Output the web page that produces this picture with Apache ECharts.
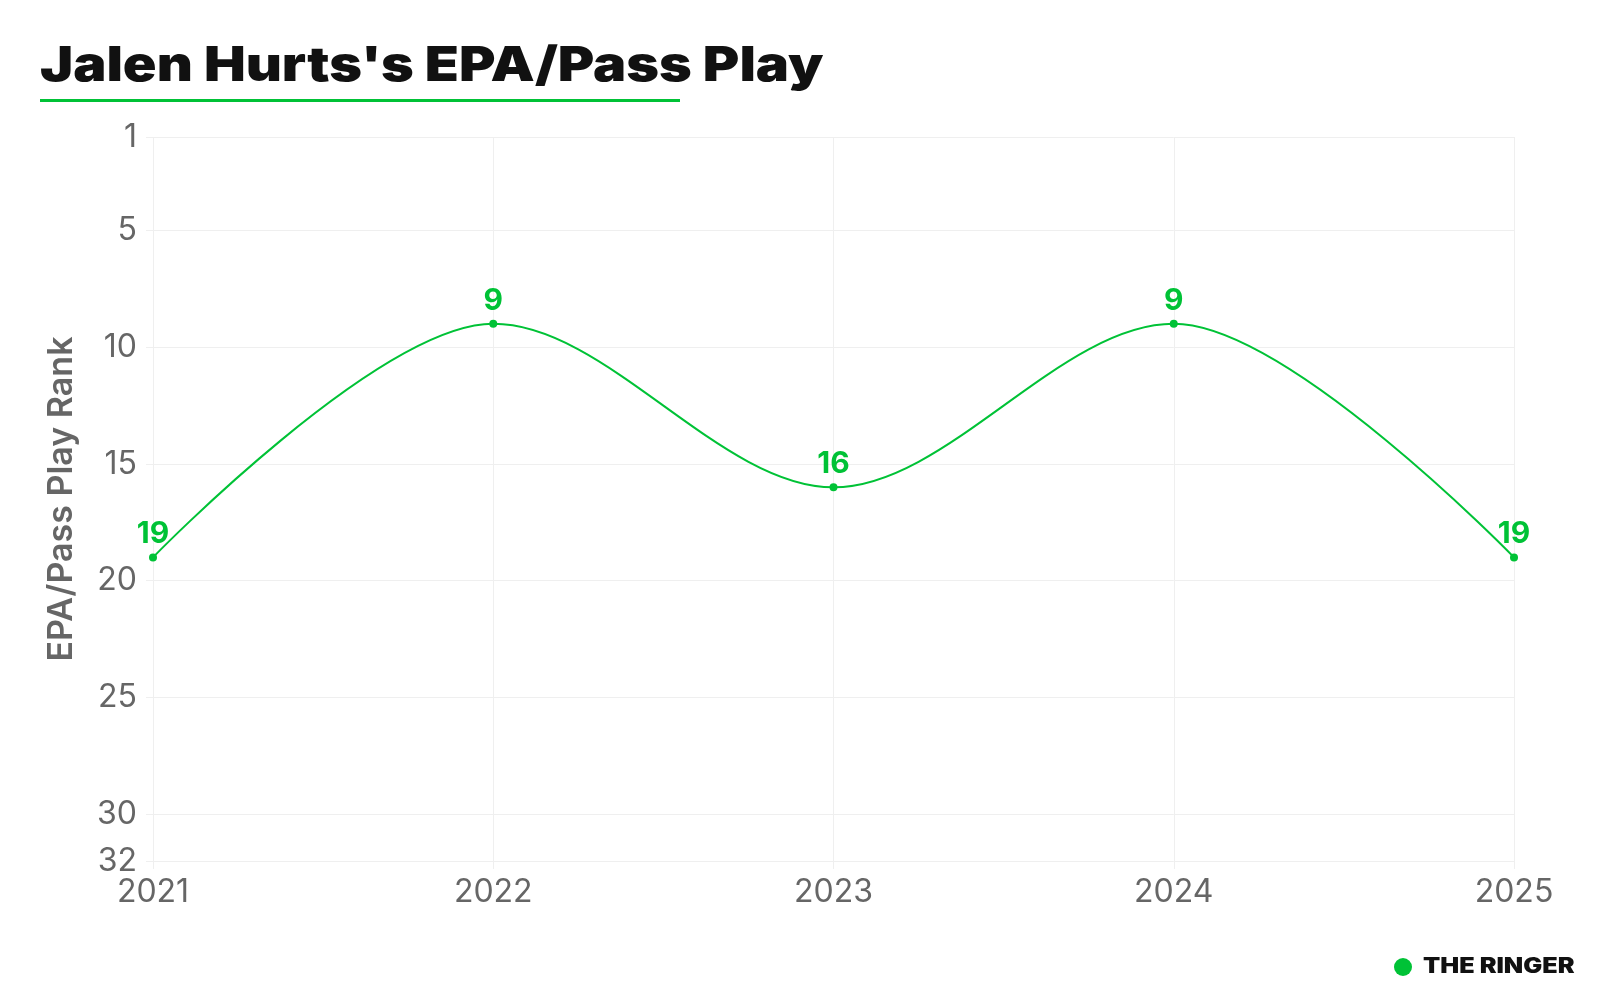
<!DOCTYPE html>
<html>
<head>
<meta charset="utf-8">
<script src="https://cdn.jsdelivr.net/npm/echarts@6/dist/echarts.min.js"></script>
<style>
  html, body { margin: 0; padding: 0; background: #ffffff; }
  #chart { width: 1600px; height: 1000px; }
</style>
</head>
<body>
<div id="chart"></div>
<script>
const titleText = "Jalen Hurts's EPA/Pass Play";
const yAxisName = "EPA/Pass Play Rank";
const years = ["2021", "2022", "2023", "2024", "2025"];
const ranks = [19, 9, 16, 9, 19];
const yTicks = [1, 5, 10, 15, 20, 25, 30, 32];
const brand = "THE RINGER";

const GREEN = "#00C236";
const GRID = "#efefef";
const LABEL = "#666666";
const FONT = "Inter, 'Noto Sans', sans-serif";

const chart = echarts.init(document.getElementById('chart'), null, { renderer: 'canvas' });

chart.setOption({
  backgroundColor: '#ffffff',
  animation: false,
  grid: { left: 153, right: 86, top: 137, bottom: 139, containLabel: false },
  xAxis: {
    type: 'category',
    data: years,
    boundaryGap: false,
    axisLine: { show: false },
    axisTick: { show: true, length: 8, lineStyle: { color: GRID, width: 1 } },
    axisLabel: { color: LABEL, fontSize: 32, fontFamily: FONT, margin: 15 },
    splitLine: { show: true, lineStyle: { color: GRID, width: 1 } }
  },
  yAxis: {
    type: 'value',
    inverse: true,
    min: 1,
    max: 32,
    name: yAxisName,
    nameLocation: 'middle',
    nameGap: 74,
    nameTextStyle: { color: LABEL, fontSize: 34, fontWeight: 600, fontFamily: FONT },
    axisLine: { show: false },
    axisTick: { show: true, length: 7, customValues: yTicks, lineStyle: { color: GRID, width: 1 } },
    axisLabel: { color: LABEL, fontSize: 32, fontFamily: FONT, margin: 16, customValues: yTicks },
    splitLine: { show: true, lineStyle: { color: GRID, width: 1 } }
  },
  series: [{
    type: 'line',
    data: ranks,
    smooth: 1 / 3,
    smoothMonotone: 'x',
    symbol: 'circle',
    symbolSize: 8,
    lineStyle: { color: GREEN, width: 2 },
    itemStyle: { color: GREEN },
    label: {
      show: true,
      position: 'top',
      distance: 4,
      color: GREEN,
      fontSize: 30,
      fontWeight: 700,
      fontFamily: FONT
    }
  }],
  graphic: [
    {
      type: 'text',
      x: 40,
      y: 43,
      scaleX: 1.16,
      style: { text: titleText, fill: '#111111', fontSize: 48, fontWeight: 900, fontFamily: FONT, align: 'left', verticalAlign: 'top' }
    },
    {
      type: 'rect',
      shape: { x: 40, y: 99, width: 640, height: 3 },
      style: { fill: GREEN }
    },
    {
      type: 'circle',
      shape: { cx: 1403, cy: 967, r: 9 },
      style: { fill: GREEN }
    },
    {
      type: 'text',
      x: 1423,
      y: 967,
      scaleX: 1.2,
      style: { text: brand, fill: '#111111', fontSize: 21, fontWeight: 900, fontFamily: FONT, verticalAlign: 'middle', align: 'left' }
    }
  ]
});
</script>
</body>
</html>
